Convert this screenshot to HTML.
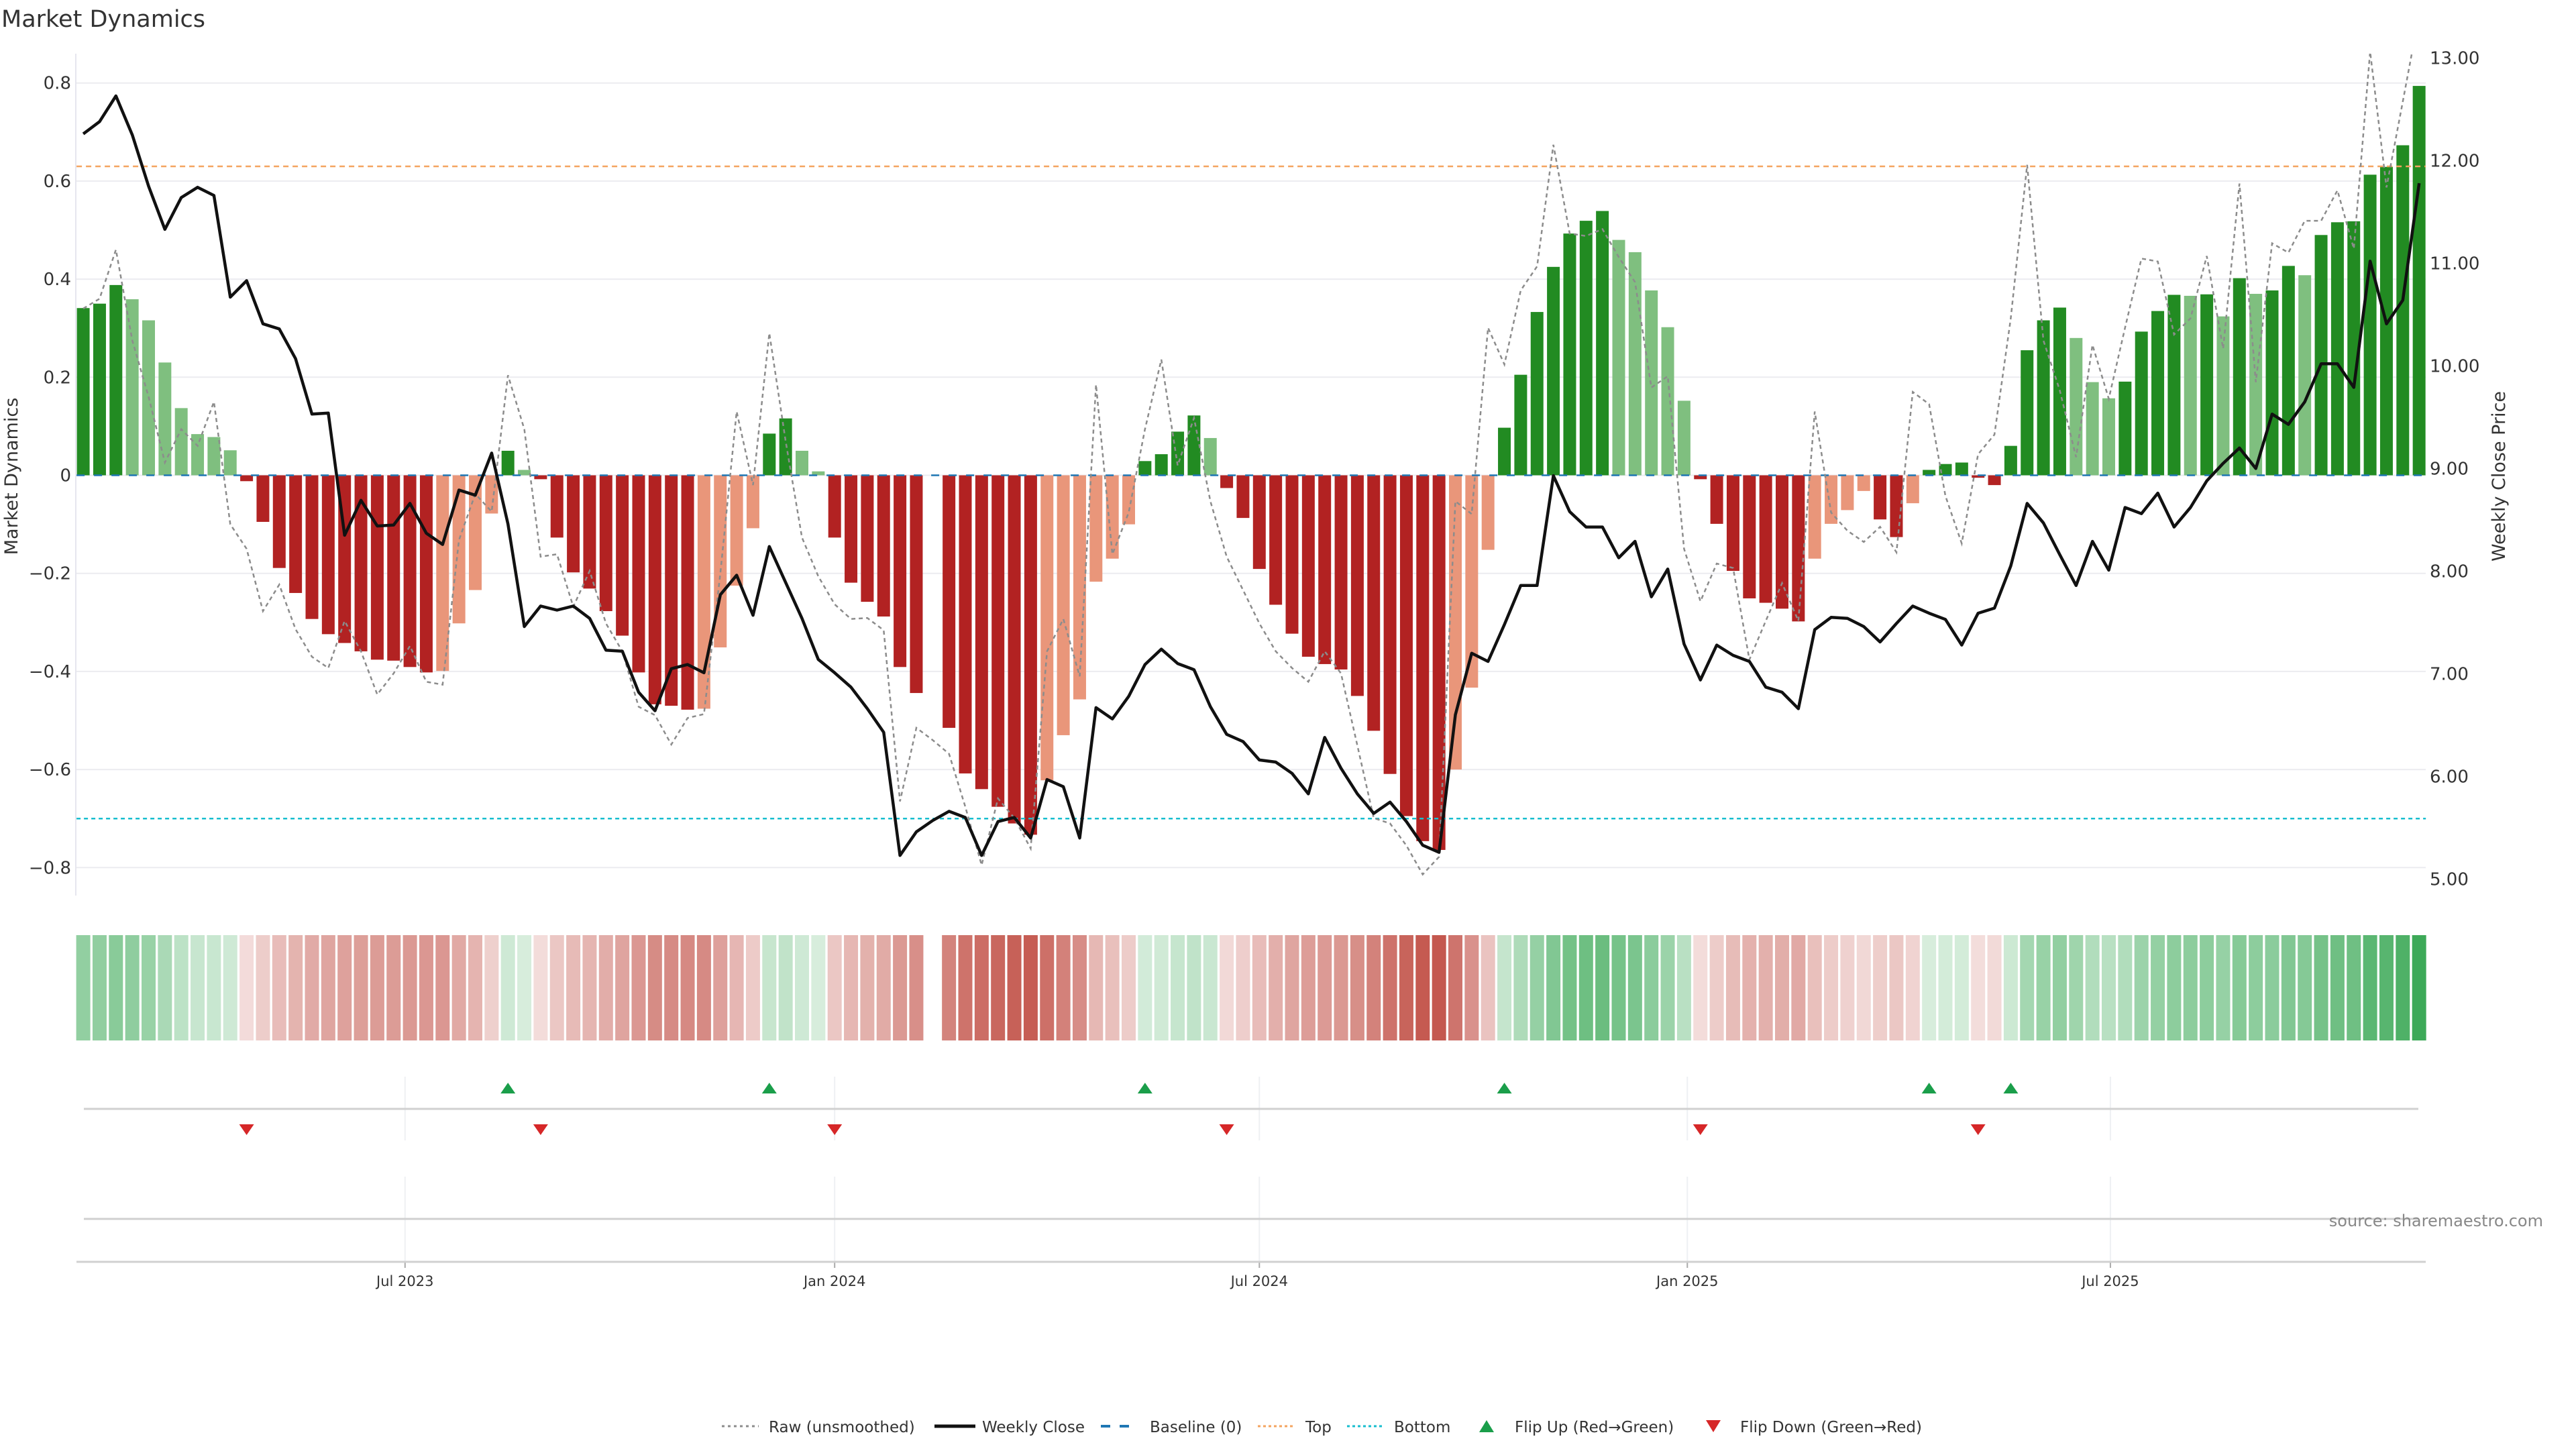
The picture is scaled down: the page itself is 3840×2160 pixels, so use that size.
<!DOCTYPE html>
<html><head><meta charset="utf-8"><title>Market Dynamics</title>
<style>
html,body{margin:0;padding:0;background:#fff;}
svg{display:block;font-family:"DejaVu Sans","Liberation Sans",sans-serif;}
</style></head>
<body>
<svg id="chart" width="3840" height="2160" viewBox="0 0 3840 2160" xmlns="http://www.w3.org/2000/svg">
<rect x="0" y="0" width="3840" height="2160" fill="#fff"/>
<text x="2" y="40" font-size="35" fill="#333">Market Dynamics</text>
<g id="grid"></g>
<g id="heat"></g>
<g id="bars"></g>
<g id="lines"></g>
<g id="axes"></g>
<g id="flips"></g>
<text transform="translate(26,710) rotate(-90)" text-anchor="middle" font-size="27" fill="#333">Market Dynamics</text>
<text transform="translate(3734,710) rotate(-90)" text-anchor="middle" font-size="27" fill="#333">Weekly Close Price</text>
<text x="3791" y="1828" text-anchor="end" font-size="24" fill="#888">source: sharemaestro.com</text>
<g id="legend"></g>
</svg>
<script>
// ---- data ----
const momentum = [0.341,0.35,0.388,0.359,0.316,0.23,0.137,0.084,0.078,0.051,
-0.012,-0.095,-0.189,-0.24,-0.293,-0.324,-0.342,-0.359,-0.376,-0.378,
-0.391,-0.402,-0.399,-0.302,-0.234,-0.078,0.05,0.011,-0.008,-0.127,
-0.198,-0.231,-0.277,-0.327,-0.402,-0.467,-0.47,-0.478,-0.476,-0.351,
-0.225,-0.108,0.085,0.116,0.05,0.008,-0.127,-0.219,-0.258,-0.288,
-0.391,-0.444,null,-0.515,-0.608,-0.64,-0.676,-0.71,-0.733,-0.622,
-0.53,-0.457,-0.217,-0.17,-0.10,0.029,0.043,0.089,0.122,0.076,
-0.026,-0.087,-0.191,-0.264,-0.323,-0.37,-0.385,-0.396,-0.45,-0.521,
-0.609,-0.695,-0.746,-0.764,-0.60,-0.433,-0.152,0.097,0.205,0.333,
0.425,0.493,0.519,0.539,0.48,0.455,0.377,0.302,0.152,-0.008,
-0.099,-0.195,-0.251,-0.26,-0.272,-0.298,-0.17,-0.099,-0.071,-0.032,
-0.09,-0.126,-0.057,0.011,0.023,0.026,-0.005,-0.02,0.06,0.255,
0.316,0.342,0.28,0.19,0.157,0.191,0.293,0.335,0.368,0.366,
0.369,0.324,0.402,0.37,0.377,0.427,0.408,0.49,0.516,0.518,
0.613,0.629,0.673,0.794];
const rawMomentum = [0.34,0.36,0.46,0.275,0.16,0.026,0.094,0.06,0.15,-0.10,
-0.15,-0.277,-0.223,-0.314,-0.37,-0.393,-0.297,-0.359,-0.447,-0.404,
-0.348,-0.421,-0.427,-0.132,-0.038,-0.074,0.204,0.094,-0.166,-0.161,
-0.268,-0.195,-0.302,-0.359,-0.472,-0.489,-0.549,-0.495,-0.487,-0.2,
0.13,-0.02,0.29,0.07,-0.127,-0.206,-0.263,-0.293,-0.291,-0.316,
-0.665,-0.515,-0.54,-0.568,-0.676,-0.795,-0.659,-0.699,-0.761,-0.359,
-0.293,-0.41,0.185,-0.161,-0.076,0.094,0.236,0.02,0.117,-0.053,
-0.166,-0.234,-0.302,-0.359,-0.393,-0.421,-0.359,-0.404,-0.551,-0.699,
-0.71,-0.755,-0.814,-0.778,-0.053,-0.079,0.301,0.226,0.377,0.426,
0.674,0.493,0.488,0.502,0.445,0.394,0.179,0.202,-0.15,-0.257,
-0.18,-0.189,-0.376,-0.297,-0.22,-0.297,0.13,-0.076,-0.113,-0.136,
-0.105,-0.157,0.17,0.145,-0.042,-0.139,0.043,0.083,0.32,0.633,
0.275,0.173,0.037,0.266,0.156,0.301,0.442,0.436,0.287,0.32,
0.447,0.258,0.595,0.19,0.473,0.454,0.519,0.519,0.581,0.462,
0.864,0.587,0.762,0.94];
const weeklyClose = [12.26,12.38,12.63,12.25,11.75,11.33,11.64,11.74,11.66,10.67,
10.83,10.41,10.36,10.07,9.53,9.54,8.35,8.69,8.44,8.45,
8.66,8.37,8.26,8.79,8.74,9.15,8.46,7.46,7.66,7.62,
7.66,7.54,7.23,7.22,6.82,6.64,7.05,7.09,7.01,7.77,
7.96,7.57,8.24,7.89,7.54,7.14,7.01,6.87,6.66,6.43,
5.23,5.46,5.57,5.66,5.60,5.23,5.56,5.60,5.40,5.97,
5.90,5.40,6.67,6.56,6.78,7.09,7.24,7.10,7.04,6.68,
6.41,6.34,6.16,6.14,6.03,5.83,6.38,6.08,5.83,5.64,
5.75,5.56,5.33,5.26,6.60,7.20,7.12,7.48,7.86,7.86,
8.93,8.58,8.43,8.43,8.13,8.29,7.75,8.02,7.29,6.94,
7.28,7.18,7.12,6.87,6.82,6.66,7.43,7.55,7.54,7.46,
7.31,7.49,7.66,7.59,7.53,7.28,7.59,7.64,8.05,8.66,
8.47,8.16,7.86,8.29,8.01,8.62,8.56,8.76,8.43,8.62,
8.88,9.05,9.20,9.00,9.53,9.43,9.65,10.02,10.02,9.79,
11.02,10.41,10.64,11.78];
const topLevel = 0.63;
const bottomLevel = -0.70;
const leftTicks = [0.8,0.6,0.4,0.2,0,-0.2,-0.4,-0.6,-0.8];
const leftTickLabels = ["0.8","0.6","0.4","0.2","0","−0.2","−0.4","−0.6","−0.8"];
const rightTicks = [13,12,11,10,9,8,7,6,5];
const rightTickLabels = ["13.00","12.00","11.00","10.00","9.00","8.00","7.00","6.00","5.00"];
const monthTickIdx = [19.7,46.0,72.0,98.2,124.1];
const monthTickLabels = ["Jul 2023","Jan 2024","Jul 2024","Jan 2025","Jul 2025"];

// ---- scales ----
const NS='http://www.w3.org/2000/svg';
function xOf(i){return 124.1 + 24.35*i;}
function yL(v){return 708.5 - v*731;}
function yR(p){return 698.4 - (p-9)*153;}
const PLOT_TOP=80, PLOT_BOT=1335, X0=113, X1=3616;
function mk(tag,attrs,parent){const e=document.createElementNS(NS,tag);for(const k in attrs)e.setAttribute(k,attrs[k]);parent.appendChild(e);return e;}

const gGrid=document.getElementById('grid'), gBars=document.getElementById('bars'), gLines=document.getElementById('lines'),
 gAxes=document.getElementById('axes'), gHeat=document.getElementById('heat'), gFlips=document.getElementById('flips'), gLeg=document.getElementById('legend');

const defs=mk('defs',{},document.getElementById('chart'));
const cp=mk('clipPath',{id:'plotclip'},defs);
mk('rect',{x:X0,y:PLOT_TOP,width:X1-X0+10,height:PLOT_BOT-PLOT_TOP},cp);

leftTicks.forEach((t,k)=>{
  const y=yL(t);
  const g=mk('line',{x1:X0,x2:X1,y1:y,y2:y,stroke:'#ececf0','stroke-width':2},gGrid);
  
  
  const tx=mk('text',{x:106,y:y+9,'text-anchor':'end','font-size':26,fill:'#333'},gAxes);
  tx.textContent=leftTickLabels[k];
  
  
});
rightTicks.forEach((t,k)=>{
  const tx=mk('text',{x:3622,y:yR(t)+9,'font-size':26,fill:'#333'},gAxes);
  tx.textContent=rightTickLabels[k];
  
  
});
const la=mk('line',{x1:X0,x2:X0,y1:PLOT_TOP,y2:PLOT_BOT,stroke:'#e6e6ee','stroke-width':2},gAxes);



function barColor(i){
  const v=momentum[i]; let p=null;
  for(let j=i-1;j>=0;j--){if(momentum[j]!==null){p=momentum[j];break;}}
  if(p===null)p=v;
  if(v>=0) return v>=p?'#228b22':'#7fbf7f';
  return v<=p?'#b22222':'#e9967a';
}
momentum.forEach((v,i)=>{
  if(v===null)return;
  const y0=yL(0), y1=yL(v);
  const r=mk('rect',{x:xOf(i)-9.5,y:Math.min(y0,y1),width:19,height:Math.max(1.5,Math.abs(y1-y0)),fill:barColor(i)},gBars);
  
  
});

function hline(v,color,dash,name){
  const l=mk('line',{x1:xOf(0)-10,x2:xOf(momentum.length-1)+10,y1:yL(v),y2:yL(v),stroke:color,'stroke-width':2.5,'stroke-dasharray':dash},gLines);
  
  
}
hline(0,'#1f77b4','12 14','baseline-line');
hline(topLevel,'#f4a460','8 6','top-line');
hline(bottomLevel,'#17becf','6 5','bottom-line');

let d='';
rawMomentum.forEach((v,i)=>{d+=(i?'L':'M')+xOf(i).toFixed(1)+' '+yL(v).toFixed(1);});
const rl=mk('path',{d:d,fill:'none',stroke:'#8c8c8c','stroke-width':2.5,'stroke-dasharray':'6 5','clip-path':'url(#plotclip)'},gLines);


d='';
weeklyClose.forEach((p,i)=>{d+=(i?'L':'M')+xOf(i).toFixed(1)+' '+yR(p).toFixed(1);});
const cl=mk('path',{d:d,fill:'none',stroke:'#111','stroke-width':4.5,'stroke-linejoin':'round','clip-path':'url(#plotclip)'},gLines);



momentum.forEach((v,i)=>{
  if(v===null)return;
  const a=Math.min(0.9,0.18+Math.abs(v)*0.95);
  const col=v>=0?'rgba(40,160,70,'+a.toFixed(3)+')':'rgba(190,70,60,'+a.toFixed(3)+')';
  const r=mk('rect',{x:xOf(i)-10.5,y:1394,width:21,height:157,fill:col},gHeat);
  
  
});

monthTickIdx.forEach((ti,k)=>{
  const x=xOf(ti);
  const g1=mk('line',{x1:x,x2:x,y1:1605,y2:1700,stroke:'#eef0f3','stroke-width':2},gAxes);
  
  
  const g2=mk('line',{x1:x,x2:x,y1:1754,y2:1881,stroke:'#eef0f3','stroke-width':2},gAxes);
  
  
  const tk=mk('line',{x1:x,x2:x,y1:1881,y2:1890,stroke:'#aaa','stroke-width':2},gAxes);
  
  
  const tx=mk('text',{x:x,y:1917,'text-anchor':'middle','font-size':21,fill:'#333'},gAxes);
  tx.textContent=monthTickLabels[k];
  
  
});
const fl=mk('line',{x1:125,x2:3605,y1:1653,y2:1653,stroke:'#d0d0d0','stroke-width':3},gAxes);


const pl=mk('line',{x1:125,x2:3605,y1:1817,y2:1817,stroke:'#d0d0d0','stroke-width':3},gAxes);


const xa=mk('line',{x1:114,x2:3616,y1:1881,y2:1881,stroke:'#d0d0d0','stroke-width':3},gAxes);



let prev=null;
momentum.forEach((v,i)=>{
  if(v===null)return;
  if(prev!==null){
    const x=xOf(i);
    if(prev<0&&v>=0){
      const t=mk('polygon',{points:(x-11)+',1630 '+(x+11)+',1630 '+x+',1614',fill:'#1a9e4a'},gFlips);
      
      
    } else if(prev>=0&&v<0){
      const t=mk('polygon',{points:(x-11)+',1676 '+(x+11)+',1676 '+x+',1692',fill:'#d62728'},gFlips);
      
      
    }
  }
  prev=v;
});

const ly=2126;
function legText(x,s,name){const t=mk('text',{x:x,y:ly+9,'font-size':23,fill:'#333'},gLeg);t.textContent=s;}
function legLine(x1,x2,color,w,dash,name){const l=mk('line',{x1:x1,x2:x2,y1:ly,y2:ly,stroke:color,'stroke-width':w,'stroke-dasharray':dash},gLeg);}
legLine(1076,1131,'#8c8c8c',3,'4 5','legend-raw-swatch'); legText(1146,'Raw (unsmoothed)','legend-raw-label');
legLine(1393,1454,'#111',5,'','legend-close-swatch'); legText(1464,'Weekly Close','legend-close-label');
legLine(1641,1697,'#1f77b4',4,'14 14','legend-baseline-swatch'); legText(1714,'Baseline (0)','legend-baseline-label');
legLine(1875,1930,'#f4a460',3,'4 4','legend-top-swatch'); legText(1946,'Top','legend-top-label');
legLine(2008,2063,'#17becf',3,'4 4','legend-bottom-swatch'); legText(2078,'Bottom','legend-bottom-label');
const lu=mk('polygon',{points:'2205,2135 2227,2135 2216,2117',fill:'#1a9e4a'},gLeg);


legText(2258,'Flip Up (Red→Green)','legend-flip-up-label');
const ld=mk('polygon',{points:'2543,2117 2565,2117 2554,2135',fill:'#d62728'},gLeg);


legText(2594,'Flip Down (Green→Red)','legend-flip-down-label');
</script>
</body></html>
